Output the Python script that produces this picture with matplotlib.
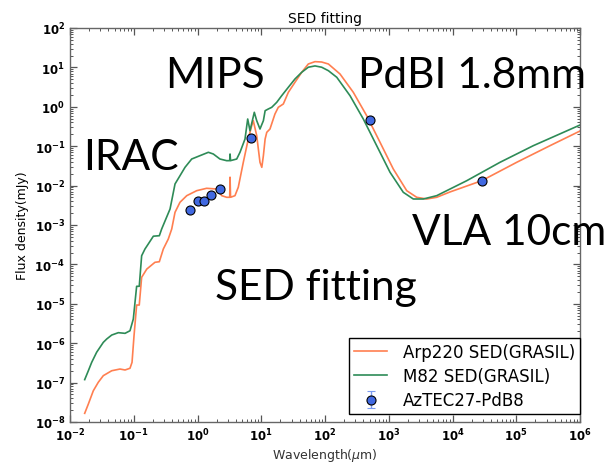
import math
import matplotlib
matplotlib.use('Agg')
import matplotlib.pyplot as plt
from matplotlib.ticker import LogLocator, FuncFormatter, NullFormatter

# ---- data ----
wl_m82 = [0.0170, 0.0194, 0.0219, 0.0262, 0.0333, 0.0377, 0.0451, 0.0573, 0.0730, 0.0873,
          0.0984, 0.111, 0.122, 0.133, 0.150, 0.169, 0.203, 0.252, 0.274, 0.371,
          0.444, 0.531, 0.637, 0.811, 1.09, 1.48, 1.77, 2.25, 2.87, 3.20,
          3.24, 3.30, 4.12, 4.64, 5.56, 6.13, 6.66, 7.78, 8.49, 9.55,
          10.8, 11.5, 12.9, 14.6, 17.5, 20.9, 26.6, 33.8, 43.1, 54.7,
          69.7, 88.7, 113, 153, 247, 399, 647, 1047, 1690, 2427,
          3483, 5650, 16700, 55600, 185000, 1e6]
flux_m82 = [1.19e-7, 2.0e-7, 3.27e-7, 5.9e-7, 1.05e-6, 1.28e-6, 1.61e-6, 1.85e-6, 1.78e-6, 2.07e-6,
            4.1e-6, 2.78e-5, 2.78e-5, 1.66e-4, 2.46e-4, 3.3e-4, 5.2e-4, 5.35e-4, 7.9e-4, 2.55e-3,
            0.0110, 0.0178, 0.0291, 0.0473, 0.0574, 0.070, 0.0634, 0.0473, 0.0429, 0.043,
            0.0634, 0.043, 0.0473, 0.070, 0.152, 0.49, 0.247, 0.725, 0.444, 0.273,
            0.444, 0.796, 0.88, 0.97, 1.30, 1.91, 3.13, 5.08, 7.51, 10.1,
            10.9, 10.1, 8.25, 5.61, 1.91, 0.49, 0.103, 0.0218, 6.76e-3, 4.57e-3,
            4.57e-3, 5.55e-3, 0.0133, 0.039, 0.103, 0.345]

wl_arp = [0.0170, 0.0194, 0.0232, 0.0278, 0.0333, 0.0451, 0.0608, 0.0730, 0.0873, 0.0940,
          0.101, 0.111, 0.122, 0.133, 0.160, 0.215, 0.252, 0.291, 0.348, 0.394,
          0.444, 0.531, 0.678, 0.971, 1.39, 2.0, 2.40, 2.87, 3.20, 3.24,
          3.30, 3.87, 4.36, 5.23, 6.26, 7.08, 7.50, 8.49, 9.55, 10.2,
          10.8, 11.5, 12.2, 13.7, 16.4, 18.5, 22.2, 26.6, 33.8, 43.1,
          54.7, 69.7, 88.7, 113, 172, 278, 451, 729, 1178, 1914,
          2744, 3936, 5650, 9140, 28700, 101600, 338000, 1e6]
flux_arp = [1.66e-8, 2.86e-8, 6.2e-8, 1.02e-7, 1.5e-7, 2.0e-7, 2.21e-7, 2.09e-7, 2.31e-7, 3.27e-7,
            1.55e-6, 9.3e-6, 9.3e-6, 4.7e-5, 7.6e-5, 1.13e-4, 1.17e-4, 2.46e-4, 4.4e-4, 7.9e-4,
            2.1e-3, 3.77e-3, 5.55e-3, 7.43e-3, 8.54e-3, 8.2e-3, 5.55e-3, 5.05e-3, 5.05e-3, 0.0163,
            5.05e-3, 5.55e-3, 9.06e-3, 0.039, 0.152, 0.331, 0.444, 0.185, 0.039, 0.0291,
            0.0574, 0.152, 0.225, 0.273, 0.656, 0.97, 1.18, 2.33, 4.19, 7.51,
            12.2, 14.0, 13.7, 12.2, 6.8, 2.33, 0.594, 0.126, 0.0264, 7.43e-3,
            5.05e-3, 4.57e-3, 5.05e-3, 6.9e-3, 0.0133, 0.039, 0.103, 0.243]

wl_obs = [0.76, 1.03, 1.28, 1.65, 2.28, 6.8, 508, 2.9e4]
flux_obs = [2.4e-3, 4.1e-3, 4.1e-3, 5.7e-3, 8.1e-3, 0.16, 0.46, 0.013]
err_obs = [2.0e-4, 3.0e-4, 3.0e-4, 4.0e-4, 6.0e-4, 0.012, 0.05, 0.0012]

series_labels = ['Arp220 SED(GRASIL)', 'M82 SED(GRASIL)', 'AzTEC27-PdB8']
overlay_texts = ['MIPS', 'PdBI 1.8mm', 'IRAC', 'VLA 10cm', 'SED fitting']

plt.rcParams['mathtext.fontset'] = 'dejavusans'

W, H = 607, 464
fig = plt.figure(figsize=(W / 100, H / 100), dpi=100)
ax = fig.add_axes([70 / W, 1 - 423 / H, 510 / W, 394 / H])

ax.plot(wl_arp, flux_arp, color='#FF7F50', lw=1.2, label=series_labels[0])
ax.plot(wl_m82, flux_m82, color='#2E8B57', lw=1.2, label=series_labels[1])
ax.errorbar(wl_obs, flux_obs, yerr=err_obs, fmt='o', color='#4169E1', mec='black',
            mew=0.8, ms=6.5, ecolor='#7B9BF0', elinewidth=1, capsize=3,
            label=series_labels[2], zorder=5)

ax.set_xscale('log')
ax.set_yscale('log')
ax.set_xlim(1e-2, 1e6)
ax.set_ylim(1e-8, 1e2)

fmt = FuncFormatter(lambda v, p: r'$\mathbf{10^{%d}}$' % round(math.log10(v)))
for axis in (ax.xaxis, ax.yaxis):
    axis.set_major_locator(LogLocator(base=10, numticks=20))
    axis.set_minor_locator(LogLocator(base=10, subs=range(2, 10), numticks=20))
    axis.set_major_formatter(fmt)
    axis.set_minor_formatter(NullFormatter())
ax.tick_params(which='both', direction='in', top=True, right=True, colors='#555555',
               labelcolor='black', labelsize=8.5)
ax.tick_params(which='major', length=5, width=0.9)
ax.tick_params(which='minor', length=2.5, width=0.7)
for s in ax.spines.values():
    s.set_color('#666666')
    s.set_linewidth(1.0)

ax.set_title('SED fitting', fontsize=10, pad=4)
ax.set_xlabel(r'Wavelength($\mu$m)', fontsize=9, color='#333333', labelpad=2)
ax.set_ylabel('Flux density(mJy)', fontsize=9, labelpad=4)

leg = ax.legend(loc='lower right', bbox_to_anchor=(1.0, 8 / 394), borderaxespad=0,
                fontsize=12, numpoints=1, fancybox=False, framealpha=1,
                edgecolor='black', labelspacing=0.38, handlelength=2.0,
                borderpad=0.28, handletextpad=0.95)
leg.get_frame().set_linewidth(1.0)

big = dict(fontsize=30.5, family=['Lato', 'DejaVu Sans'], va='baseline', ha='left', color='black')
fig.text(165 / W, 1 - 88 / H, overlay_texts[0], **big)
fig.text(358 / W, 1 - 88 / H, overlay_texts[1], **big)
fig.text(83 / W, 1 - 170 / H, overlay_texts[2], **big)
fig.text(412 / W, 1 - 245 / H, overlay_texts[3], **big)
fig.text(215 / W, 1 - 300 / H, overlay_texts[4], **big)

fig.savefig('out.png', dpi=100, facecolor='white')
